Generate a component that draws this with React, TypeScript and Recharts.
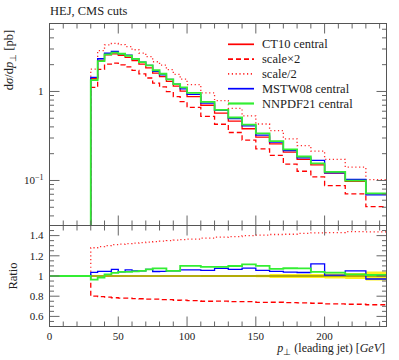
import React from 'react';
import { LineChart, ComposedChart, Line, Area, XAxis, YAxis } from 'recharts';

// bin edges of the p_perp histogram [GeV]; the first bin (0-30) is empty
const binEdges = [0, 30, 35, 40, 45, 50, 55, 60, 65, 70, 75, 80, 85, 90, 95, 100, 110, 120, 130, 140, 150, 160, 170, 180, 190, 200, 215, 230, 245];

// dσ/dp⊥ [pb], one value per bin from 30 GeV on
const ct10 = [1.39, 2.23, 2.57, 2.65, 2.55, 2.42, 2.22, 2.03, 1.84, 1.61, 1.47, 1.30, 1.15, 1.01, 0.875, 0.700, 0.570, 0.464, 0.381, 0.307, 0.258, 0.208, 0.173, 0.150, 0.121, 0.098, 0.071];
const scaleTimes2 = [1.112, 1.773, 2.030, 2.080, 1.989, 1.888, 1.721, 1.573, 1.417, 1.240, 1.125, 0.995, 0.874, 0.768, 0.661, 0.525, 0.428, 0.346, 0.284, 0.227, 0.191, 0.153, 0.127, 0.1095, 0.0877, 0.0706, 0.0508];
const scaleHalf = [1.779, 2.877, 3.341, 3.472, 3.353, 3.194, 2.942, 2.700, 2.456, 2.157, 1.977, 1.755, 1.558, 1.374, 1.194, 0.963, 0.789, 0.645, 0.533, 0.431, 0.364, 0.294, 0.246, 0.214, 0.173, 0.141, 0.102];
const mstw08 = [1.439, 2.330, 2.686, 2.822, 2.652, 2.565, 2.331, 2.132, 1.960, 1.682, 1.536, 1.365, 1.208, 1.071, 0.928, 0.739, 0.613, 0.494, 0.411, 0.324, 0.270, 0.216, 0.179, 0.168, 0.122, 0.103, 0.0689];
const nnpdf21 = [1.341, 2.197, 2.609, 2.730, 2.652, 2.517, 2.320, 2.132, 1.960, 1.731, 1.580, 1.365, 1.208, 1.111, 0.963, 0.763, 0.621, 0.510, 0.425, 0.338, 0.276, 0.224, 0.186, 0.156, 0.125, 0.0995, 0.0717];
// half width of the yellow band around ratio 1
const bandHalfWidth = [0.008, 0.008, 0.008, 0.008, 0.008, 0.008, 0.008, 0.008, 0.008, 0.008, 0.008, 0.008, 0.008, 0.008, 0.008, 0.01, 0.01, 0.01, 0.01, 0.012, 0.02, 0.02, 0.02, 0.02, 0.025, 0.03, 0.045];

const EMPTY = 0.001; // stands in for the empty bin below the log axis

const xTicks = [0, 10, 20, 30, 40, 50, 60, 70, 80, 90, 100, 110, 120, 130, 140, 150, 160, 170, 180, 190, 200, 210, 220, 230, 240];
const xMajor = [0, 50, 100, 150, 200];
const yTopTicks = [0.04, 0.05, 0.06, 0.07, 0.08, 0.09, 0.1, 0.2, 0.3, 0.4, 0.5, 0.6, 0.7, 0.8, 0.9, 1, 2, 3, 4, 5];
const yTopMajor = [0.1, 1];
const ratioTicks = [0.55, 0.6, 0.65, 0.7, 0.75, 0.8, 0.85, 0.9, 0.95, 1, 1.05, 1.1, 1.15, 1.2, 1.25, 1.3, 1.35, 1.4, 1.45];
const ratioMajor = [0.6, 0.8, 1, 1.2, 1.4];

const X_DOMAIN: [number, number] = [0, 245];
const TOP_DOMAIN: [number, number] = [0.0312, 5.8];
const RATIO_DOMAIN: [number, number] = [0.5, 1.5];

const series = [
  { key: 'ct10', name: 'CT10 central', color: '#ff0000', dash: undefined, width: 1.3 },
  { key: 'x2', name: 'scale×2', color: '#ff0000', dash: '5 3', width: 1.3 },
  { key: 'half', name: 'scale/2', color: '#ff2a2a', dash: '1.2 2.6', width: 1.3 },
  { key: 'mstw', name: 'MSTW08 central', color: '#0000ff', dash: undefined, width: 1.3 },
  { key: 'nnpdf', name: 'NNPDF21 central', color: '#33ee33', dash: undefined, width: 1.8 },
];

const topRows = binEdges.map((x, i) => {
  if (i === 0) return { x, ct10: EMPTY, x2: EMPTY, half: EMPTY, mstw: EMPTY, nnpdf: EMPTY };
  const k = Math.min(i - 1, ct10.length - 1);
  return { x, ct10: ct10[k], x2: scaleTimes2[k], half: scaleHalf[k], mstw: mstw08[k], nnpdf: nnpdf21[k] };
});

const ratioRows = binEdges.map((x, i) => {
  if (i === 0) return { x, band: [1, 1], ct10: 1, x2: 1, half: 1, mstw: 1, nnpdf: 1 };
  const k = Math.min(i - 1, ct10.length - 1);
  const h = bandHalfWidth[k];
  return {
    x,
    band: [1 - h, 1 + h],
    ct10: 1,
    x2: scaleTimes2[k] / ct10[k],
    half: scaleHalf[k] / ct10[k],
    mstw: mstw08[k] / ct10[k],
    nnpdf: nnpdf21[k] / ct10[k],
  };
});

const FRAME = '#555';
const TICK = '#666';
const FONT = '"Liberation Serif", serif';

// plot boxes (px)
const PL = 49.5, PR = 386.5, TOP_T = 23.5, TOP_B = 225.5, RAT_B = 326.5;

const near = (a: number, b: number) => Math.abs(a - b) < 1e-6;

// tick labels come from the axes; marks are drawn on the frame overlay
function axisLabel(label?: (v: number, x: number, y: number) => React.ReactNode, majors: number[] = []) {
  return (props: any) => {
    const x = Number(props.x);
    const y = Number(props.y);
    const v = Number(props.payload.value);
    const major = majors.some((m) => near(m, v));
    return <g>{major && label ? label(v, x, y) : null}</g>;
  };
}

const topYLabel = (v: number, x: number, y: number) =>
  near(v, 1) ? (
    <text x={x - 6} y={y + 3.8} textAnchor="end" fontSize={11} fontFamily={FONT} fill="#222">1</text>
  ) : (
    <text x={x - 6} y={y + 3.8} textAnchor="end" fontSize={11} fontFamily={FONT} fill="#222">
      10<tspan dy={-4.5} fontSize={8}>−1</tspan>
    </text>
  );

const ratioYLabel = (v: number, x: number, y: number) => (
  <text x={x - 6} y={y + 3.8} textAnchor="end" fontSize={11} fontFamily={FONT} fill="#222">
    {near(v, 1) ? '1' : v.toFixed(1)}
  </text>
);

const xLabel = (v: number, x: number, y: number) => (
  <text x={x} y={y + 13.5} textAnchor="middle" fontSize={11} fontFamily={FONT} fill="#222">{v}</text>
);

const axisCommon = { tickSize: 0, tickMargin: 0, tickLine: false, axisLine: false, interval: 0 as const };

function TopPanel() {
  return (
    <LineChart width={399} height={226} data={topRows} margin={{ top: 23.5, right: 12.5, bottom: 0.5, left: 8.5 }}>
      <XAxis xAxisId="b" dataKey="x" type="number" domain={X_DOMAIN} ticks={xTicks} height={0} {...axisCommon} tick={false} />
      <YAxis yAxisId="l" type="number" scale="log" domain={TOP_DOMAIN} allowDataOverflow ticks={yTopTicks} width={41} {...axisCommon} tick={axisLabel(topYLabel, yTopMajor)} />
      {series.map((s) => (
        <Line
          key={s.key}
          xAxisId="b"
          yAxisId="l"
          type="stepAfter"
          dataKey={s.key}
          stroke={s.color}
          strokeWidth={s.width}
          strokeDasharray={s.dash}
          dot={false}
          activeDot={false}
          isAnimationActive={false}
        />
      ))}
    </LineChart>
  );
}

function RatioPanel() {
  return (
    <ComposedChart width={399} height={135} data={ratioRows} margin={{ top: 0.5, right: 12.5, bottom: 0.5, left: 8.5 }}>
      <XAxis xAxisId="b" dataKey="x" type="number" domain={X_DOMAIN} ticks={xTicks} height={33} {...axisCommon} tick={axisLabel(xLabel, xMajor)} />
      <YAxis yAxisId="l" type="number" domain={RATIO_DOMAIN} allowDataOverflow ticks={ratioTicks} width={41} {...axisCommon} tick={axisLabel(ratioYLabel, ratioMajor)} />
      <Area xAxisId="b" yAxisId="l" type="stepAfter" dataKey="band" fill="#ffee00" fillOpacity={0.9} stroke="none" isAnimationActive={false} activeDot={false} />
      {series.map((s) => (
        <Line
          key={s.key}
          xAxisId="b"
          yAxisId="l"
          type="stepAfter"
          dataKey={s.key}
          stroke={s.key === 'ct10' ? '#9a9400' : s.color}
          strokeWidth={s.width}
          strokeDasharray={s.dash}
          dot={false}
          activeDot={false}
          isAnimationActive={false}
        />
      ))}
    </ComposedChart>
  );
}

// frame tick positions follow the same domains as the chart axes
const xPx = (v: number) => PL + ((v - X_DOMAIN[0]) / (X_DOMAIN[1] - X_DOMAIN[0])) * (PR - PL);
const topPx = (v: number) =>
  TOP_T + ((Math.log10(TOP_DOMAIN[1]) - Math.log10(v)) / (Math.log10(TOP_DOMAIN[1]) - Math.log10(TOP_DOMAIN[0]))) * (TOP_B - TOP_T);
const ratioPx = (v: number) => TOP_B + ((RATIO_DOMAIN[1] - v) / (RATIO_DOMAIN[1] - RATIO_DOMAIN[0])) * (RAT_B - TOP_B);

function FrameTicks() {
  const marks: React.ReactNode[] = [];
  xTicks.forEach((v) => {
    const len = xMajor.some((m) => near(m, v)) ? 10 : 5;
    const x = xPx(v);
    [[TOP_T, 1], [TOP_B, -1], [TOP_B, 1], [RAT_B, -1]].forEach(([y0, dir], j) => {
      marks.push(<line key={`x${v}-${j}`} x1={x} x2={x} y1={y0} y2={y0 + dir * len} stroke={TICK} strokeWidth={1} />);
    });
  });
  const yMarks = (vals: number[], majors: number[], px: (v: number) => number, id: string) => {
    vals.forEach((v) => {
      const len = majors.some((m) => near(m, v)) ? 10 : 4.5;
      const y = px(v);
      marks.push(<line key={`${id}${v}l`} x1={PL} x2={PL + len} y1={y} y2={y} stroke={TICK} strokeWidth={1} />);
      marks.push(<line key={`${id}${v}r`} x1={PR} x2={PR - len} y1={y} y2={y} stroke={TICK} strokeWidth={1} />);
    });
  };
  yMarks(yTopTicks, yTopMajor, topPx, 't');
  yMarks(ratioTicks, ratioMajor, ratioPx, 'r');
  return <g>{marks}</g>;
}

function Overlay() {
  return (
    <svg width={399} height={360} style={{ position: 'absolute', left: 0, top: 0, pointerEvents: 'none' }} fontFamily={FONT} fill="#222">
      <FrameTicks />
      <rect x={PL} y={TOP_T} width={PR - PL} height={TOP_B - TOP_T} fill="none" stroke={FRAME} strokeWidth={1} />
      <rect x={PL} y={TOP_B} width={PR - PL} height={RAT_B - TOP_B} fill="none" stroke={FRAME} strokeWidth={1} />
      <text x={50} y={15} fontSize={12.5}>HEJ, CMS cuts</text>
      <text transform="translate(13, 60) rotate(-90)" textAnchor="middle" fontSize={12.5}>
        d<tspan fontStyle="italic">σ</tspan>/d<tspan fontStyle="italic">p</tspan>
        <tspan fontSize={9} dy={2.5}>⊥</tspan>
        <tspan dy={-2.5}> [pb]</tspan>
      </text>
      <text transform="translate(16.5, 276) rotate(-90)" textAnchor="middle" fontSize={12.5}>Ratio</text>
      <text x={385} y={352} textAnchor="end" fontSize={12}>
        <tspan fontStyle="italic">p</tspan>
        <tspan fontSize={9} dy={2.5}>⊥</tspan>
        <tspan dy={-2.5}> (leading jet) [</tspan>
        <tspan fontStyle="italic">GeV</tspan>]
      </text>
      {series.map((s, i) => {
        const y = 44.3 + i * 14.8;
        return (
          <g key={s.key}>
            <line x1={228} x2={254} y1={y} y2={y} stroke={s.color} strokeWidth={s.width + 0.4} strokeDasharray={s.dash} />
            <text x={262} y={y + 4} fontSize={12.5}>{s.name}</text>
          </g>
        );
      })}
    </svg>
  );
}

export default function App() {
  return (
    <div style={{ position: 'absolute', left: 0, top: 0, width: 399, height: 360, background: '#fff', fontFamily: FONT }}>
      <div style={{ position: 'absolute', left: 0, top: 0 }}>
        <TopPanel />
      </div>
      <div style={{ position: 'absolute', left: 0, top: 225 }}>
        <RatioPanel />
      </div>
      <Overlay />
    </div>
  );
}
